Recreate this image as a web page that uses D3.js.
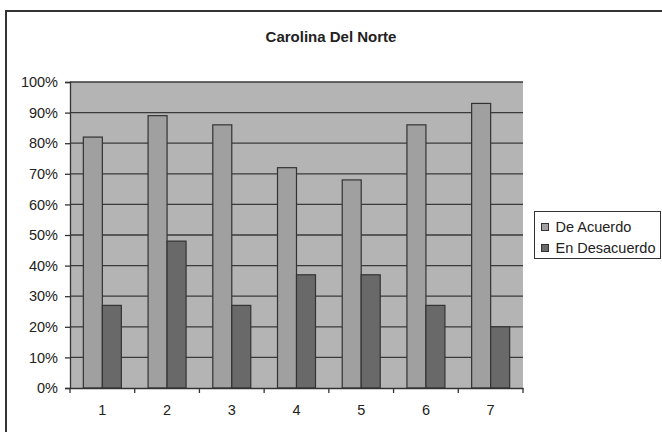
<!DOCTYPE html>
<html><head><meta charset="utf-8">
<script src="https://cdn.jsdelivr.net/npm/d3@7"></script>
<style>body{margin:0;background:#fff}svg{display:block}text{font-family:"Liberation Sans",Arial,sans-serif}</style>
</head><body>
<svg id="c" width="662" height="432"></svg>
<script>
const categories = ["1","2","3","4","5","6","7"];
const deAcuerdo = [82, 89, 86, 72, 68, 86, 93];
const enDesacuerdo = [27, 48, 27, 37, 37, 27, 20];
const seriesNames = ["De Acuerdo", "En Desacuerdo"];
const yTicks = [0,10,20,30,40,50,60,70,80,90,100];

const svg = d3.select("#c");
const m = {left:70, top:82, right:523, bottom:388};
const colors = ["#a0a0a0", "#696969"];
const FS = 14.5;

svg.append("rect").attr("x",6).attr("y",11).attr("width",700).attr("height",460)
  .attr("fill","#fff").attr("stroke","#333").attr("stroke-width",2);

svg.append("text").attr("x",331).attr("y",42).attr("text-anchor","middle")
  .attr("font-size",15).attr("font-weight","bold").attr("fill","#222").text("Carolina Del Norte");

const x = d3.scaleBand().domain(categories).range([m.left, m.right]);
const y = d3.scaleLinear().domain([0,100]).range([m.bottom, m.top]);

svg.append("rect").attr("x",m.left).attr("y",m.top).attr("width",m.right-m.left).attr("height",m.bottom-m.top)
  .attr("fill","#b4b4b4");

svg.append("g").selectAll("line").data(yTicks.slice(1)).join("line")
  .attr("x1",m.left).attr("x2",m.right).attr("y1",d=>y(d)).attr("y2",d=>y(d))
  .attr("stroke","#3a3a3a").attr("stroke-width",1.3);

const barW = 19;
const series = [deAcuerdo, enDesacuerdo];
series.forEach((vals, si) => {
  svg.append("g").selectAll("rect").data(vals).join("rect")
    .attr("x",(d,i)=>x(categories[i]) + x.bandwidth()/2 - barW + si*barW)
    .attr("y",d=>y(d)).attr("width",barW).attr("height",d=>y(0)-y(d))
    .attr("fill",colors[si]).attr("stroke","#333").attr("stroke-width",1.2);
});

const yAxis = svg.append("g").attr("transform",`translate(${m.left},0)`)
  .call(d3.axisLeft(y).tickValues(yTicks).tickFormat(d=>d+"%").tickSize(5).tickPadding(7));
yAxis.attr("font-family",null).attr("font-size",null);
yAxis.select(".domain").attr("stroke","#333").attr("stroke-width",1.3);
yAxis.selectAll(".tick line").attr("stroke","#333").attr("stroke-width",1.3);
yAxis.selectAll("text").attr("font-size",FS).attr("fill","#222");

const xAxis = svg.append("g").attr("transform",`translate(0,${m.bottom})`)
  .call(d3.axisBottom(x).tickSize(0).tickPadding(17));
xAxis.attr("font-family",null).attr("font-size",null);
xAxis.select(".domain").attr("stroke","#333").attr("stroke-width",1.3);
xAxis.selectAll("text").attr("font-size",FS).attr("fill","#222");
const bounds = categories.map(c=>x(c)).concat([m.right]);
svg.append("g").selectAll("line").data(bounds).join("line")
  .attr("x1",d=>d).attr("x2",d=>d).attr("y1",m.bottom).attr("y2",m.bottom+5)
  .attr("stroke","#333").attr("stroke-width",1.3);

const lg = svg.append("g");
lg.append("rect").attr("x",534.5).attr("y",211.5).attr("width",126).attr("height",47)
  .attr("fill","#fff").attr("stroke","#333").attr("stroke-width",1);
seriesNames.forEach((n,i)=>{
  const cy = 227 + i*21;
  lg.append("rect").attr("x",541.5).attr("y",cy-3.5).attr("width",7).attr("height",7)
    .attr("fill",colors[i]).attr("stroke","#333").attr("stroke-width",1);
  lg.append("text").attr("x",555.5).attr("y",cy+5).attr("font-size",FS).attr("fill","#222").text(n);
});
</script>
</body></html>
